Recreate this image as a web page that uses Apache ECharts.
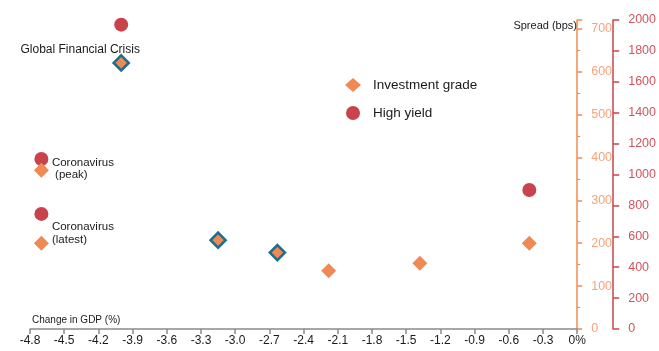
<!DOCTYPE html>
<html>
<head>
<meta charset="utf-8">
<script src="https://cdn.jsdelivr.net/npm/echarts@6/dist/echarts.min.js"></script>
<style>
  html, body { margin: 0; padding: 0; background: #fff; }
  #chart { width: 659px; height: 351px; }
</style>
</head>
<body>
<div id="chart"></div>
<script>
// Change in GDP (%) for each episode, with the spreads reached (bps)
const gdpChange = [-4.0, -4.7, -4.7, -3.15, -2.63, -2.18, -1.38, -0.42];
const igSpread  = [620, 370, 200, 207, 178, 136, 153, 200];
const hySpread  = [1970, 1100, 745, null, null, null, null, 900];
const outlined  = [true, false, false, true, true, false, false, false];
const notes     = ['Global Financial Crisis', 'Coronavirus\n (peak)', 'Coronavirus\n(latest)', '', '', '', '', ''];

const seriesNames = ['Investment grade', 'High yield'];
const xTitle = 'Change in GDP (%)';
const yTitle = 'Spread (bps)';

const FONT = '"Liberation Sans", Arial, sans-serif';
const IG_COLOR = '#f08a55';
const HY_COLOR = '#c8434b';
const OUTLINE = '#1d6f8c';

// per-note label placement
const noteLabel = [
  { position: 'top', offset: [-41, 7], align: 'center', lineHeight: 12, fontSize: 12 },
  { position: 'right', distance: 3, offset: [0, -1], align: 'left', lineHeight: 12, fontSize: 11.5 },
  { position: 'right', distance: 3, offset: [0, -10], align: 'left', lineHeight: 13, fontSize: 11.5 }
];

const igData = gdpChange.map((x, i) => {
  const item = { value: [x, igSpread[i]] };
  if (outlined[i]) {
    item.itemStyle = { borderColor: OUTLINE, borderWidth: 2.6 };
  }
  if (notes[i]) {
    item.label = Object.assign({
      show: true,
      formatter: notes[i],
      color: '#1a1a1a',
      fontFamily: FONT
    }, noteLabel[i]);
  }
  return item;
});

const hyData = gdpChange
  .map((x, i) => (hySpread[i] == null ? null : [x, hySpread[i]]))
  .filter(d => d !== null);

const chart = echarts.init(document.getElementById('chart'), null, { renderer: 'canvas' });

chart.setOption({
  animation: false,
  backgroundColor: '#ffffff',
  textStyle: { fontFamily: FONT },
  title: [
    { text: xTitle, left: 27, top: 310,
      textStyle: { fontSize: 10, fontWeight: 'normal', color: '#1a1a1a', fontFamily: FONT } },
    { text: yTitle, right: 77, top: 15,
      textStyle: { fontSize: 11, fontWeight: 'normal', color: '#1a1a1a', fontFamily: FONT } }
  ],
  legend: {
    orient: 'vertical',
    left: 340,
    top: 73,
    itemWidth: 16,
    itemHeight: 14,
    itemGap: 14,
    data: seriesNames,
    textStyle: { fontSize: 13.5, color: '#1a1a1a', fontFamily: FONT, padding: [0, 0, 0, 7] }
  },
  grid: { left: 30, right: 78, top: 20, bottom: 22, containLabel: false },
  xAxis: {
    type: 'value',
    min: -4.8,
    max: 0,
    interval: 0.3,
    splitLine: { show: false },
    axisLine: { show: true, onZero: false, lineStyle: { color: '#8a8a8a', width: 1.5 } },
    axisTick: { show: true, length: 5, lineStyle: { color: '#8a8a8a', width: 1.5 } },
    axisLabel: {
      color: '#1a1a1a',
      fontSize: 12,
      margin: 6,
      formatter: v => (Math.abs(v) < 1e-9 ? '0%' : v.toFixed(1))
    }
  },
  yAxis: [
    {
      type: 'value',
      position: 'right',
      offset: 0,
      min: 0,
      max: 720,
      interval: 100,
      splitLine: { show: false },
      axisLine: { show: true, lineStyle: { color: '#f38b52', width: 1.5 } },
      axisTick: { show: true, inside: false, length: 5, lineStyle: { color: '#f38b52', width: 1.5 } },
      minorTick: { show: true, splitNumber: 2, length: 3, lineStyle: { color: '#f38b52', width: 1.2 } },
      axisLabel: { color: '#f6a27a', fontSize: 12.5, margin: 14, showMaxLabel: false,
        formatter: v => String(v) }
    },
    {
      type: 'value',
      position: 'right',
      offset: 36,
      min: 0,
      max: 2000,
      interval: 200,
      splitLine: { show: false },
      axisLine: { show: true, lineStyle: { color: '#c8434b', width: 1.5 } },
      axisTick: { show: true, inside: false, length: 6, lineStyle: { color: '#c8434b', width: 1.5 } },
      axisLabel: { color: '#d0545d', fontSize: 12.5, margin: 15, formatter: v => String(v) }
    }
  ],
  series: [
    {
      name: seriesNames[0],
      type: 'scatter',
      yAxisIndex: 0,
      symbol: 'diamond',
      symbolSize: 15,
      z: 3,
      itemStyle: { color: IG_COLOR, opacity: 1 },
      data: igData
    },
    {
      name: seriesNames[1],
      type: 'scatter',
      yAxisIndex: 1,
      symbol: 'circle',
      symbolSize: 14,
      z: 2,
      itemStyle: { color: HY_COLOR, opacity: 1 },
      data: hyData
    }
  ]
});
</script>
</body>
</html>
